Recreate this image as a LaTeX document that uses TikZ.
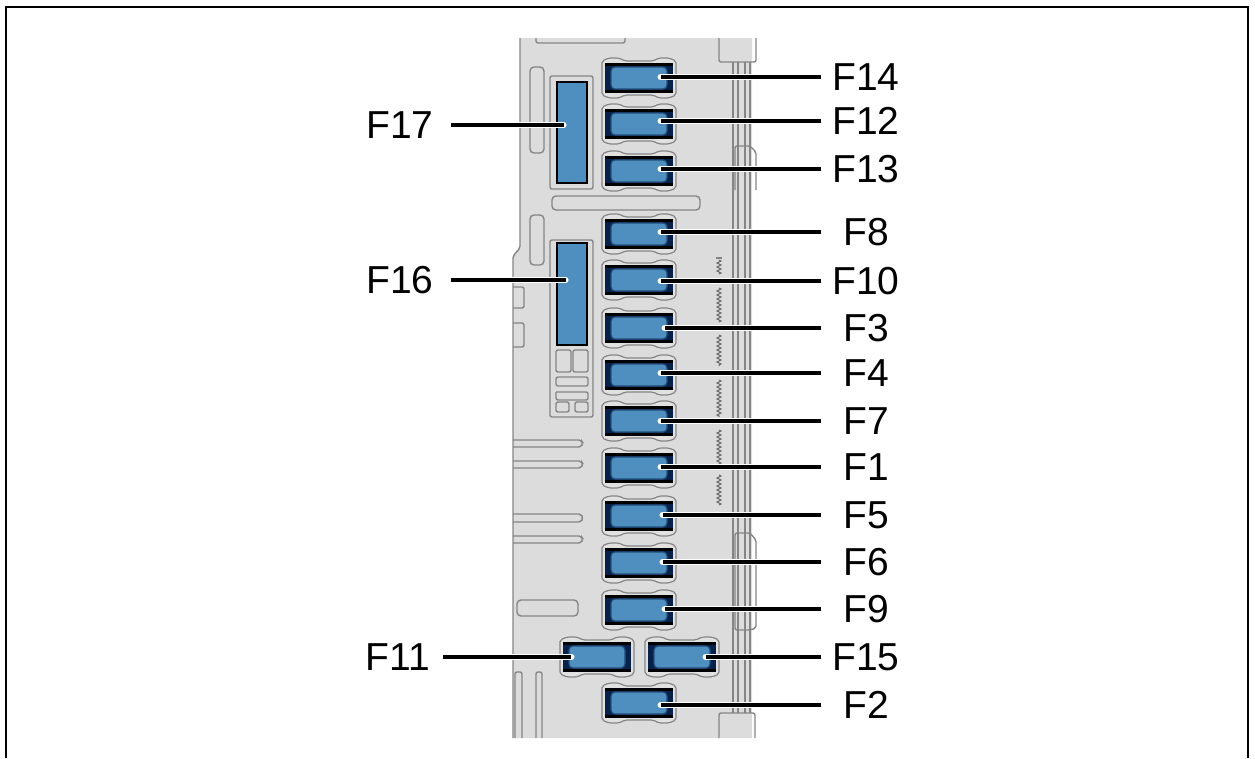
\documentclass[tikz,border=0pt]{standalone}
\usepackage{fontspec}
\setmainfont{Liberation Sans}
\usetikzlibrary{decorations.pathmorphing}
\definecolor{plategray}{HTML}{DCDCDC}
\definecolor{edgegray}{HTML}{858585}
\definecolor{fuseblue}{HTML}{4F8FBF}
\definecolor{fusedark}{HTML}{06224A}
\tikzset{
	part/.style = {draw=edgegray, line width=1.4pt, rounded corners=2pt},
	slot/.style = {draw=edgegray, line width=1.4pt, rounded corners=4pt, fill=plategray},
	saw/.style = {draw=black!60, line width=1pt, decorate, decoration={zigzag, segment length=4pt, amplitude=2pt}},
	fuse/.style = {draw=fusedark!60!fuseblue, line width=1.2pt, fill=fuseblue, rounded corners=4pt, minimum width=56pt, minimum height=22pt, inner sep=0pt},
	fusetall/.style = {draw=black, line width=2pt, fill=fuseblue, minimum width=30pt, inner sep=0pt},
	lab/.style = {font=\fontsize{39}{39}\selectfont, minimum width=90pt, inner sep=0pt, text=black},
	leader/.style = {draw=black, line width=3.2pt, preaction={draw=white, line width=6.2pt, line cap=round}}
}
% holder, dark frame and blue fuse; #1 name, #2 x, #3 y
\newcommand{\Fuse}[3]{
	\begin{scope}[shift={(#2,#3)}]
		\draw[part, line width=1.2pt, fill=plategray!85!white] (-37,-14) -- (-37,-17) -- (-30,-20) -- (-20,-20) -- (-14,-17) -- (14,-17) -- (20,-20) -- (30,-20) -- (37,-17) -- (37,17) -- (30,20) -- (20,20) -- (14,17) -- (-14,17) -- (-20,20) -- (-30,20) -- (-37,17) -- cycle;
		\fill[fusedark] (-34,-14) rectangle (34,14);
		\fill[black] (-34,-15) rectangle (34,-12);
		\fill[black] (-34,12) rectangle (34,15);
		\node[fuse] (#1) at (0,0) {};
	\end{scope}
}
\begin{document}
\begin{tikzpicture}[x=1pt, y=-1pt]
	\useasboundingbox (0,0) rectangle (1255,758);
	% frame
	\draw[black, line width=1.6pt] (6,758) -- (6,7) -- (1248,7) -- (1248,758);
	% plate
	\fill[plategray] (520,38) -- (752,38) -- (752,738) -- (513,738) -- (513,256) -- (520,248) -- cycle;
	\draw[part] (520,38) -- (520,248) -- (513,256) -- (513,738);
	\draw[part] (536,38) -- (536,43) -- (625,43) -- (625,38);
	\draw[part] (719,38) -- (719,62) -- (756,62) -- (756,38);
	\draw[part] (719,738) -- (719,713) -- (755,713) -- (755,738);
	\draw[edgegray, line width=1.2pt] (733,62) -- (733,713);
	\draw[edgegray, line width=1.2pt] (738,62) -- (738,713);
	\draw[edgegray, line width=1.2pt] (745,62) -- (745,713);
	\draw[edgegray, line width=1.2pt] (750,62) -- (750,713);
	\draw[part] (735,190) -- (735,146) -- (750,146) -- (756,152) -- (756,190);
	\draw[part] (735,630) -- (735,533) -- (750,533) -- (756,540) -- (756,628) -- (750,630) -- cycle;
	% slots
	\draw[slot] (530,67) rectangle (544,153);
	\draw[slot] (530,215) rectangle (544,265);
	\draw[slot] (552,196) rectangle (700,210);
	\draw[slot] (517,600) rectangle (578,616);
	\draw[part] (513,287) -- (524,287) -- (524,308) -- (513,308);
	\draw[part] (513,323) -- (524,323) -- (524,347) -- (513,347);
	\draw[part] (513,440) -- (581,440) -- (583,443) -- (581,447) -- (513,447);
	\draw[part] (513,461) -- (581,461) -- (583,464) -- (581,468) -- (513,468);
	\draw[part] (513,514) -- (581,514) -- (583,518) -- (581,522) -- (513,522);
	\draw[part] (513,536) -- (581,536) -- (583,539) -- (581,543) -- (513,543);
	\draw[part] (515,738) -- (515,672) -- (522,672) -- (522,738);
	\draw[part] (536,738) -- (536,672) -- (542,672) -- (542,738);
	% sawtooth
	\draw[part] (716,258) -- (722,258);
	\draw[saw] (719,260) -- (719,274);
	\draw[saw] (719,288) -- (719,322);
	\draw[saw] (719,335) -- (719,366);
	\draw[saw] (719,380) -- (719,417);
	\draw[saw] (719,430) -- (719,465);
	\draw[saw] (719,475) -- (719,505);
	% tall fuses
	\draw[part] (550,76) rectangle (593,189);
	\draw[part] (550,240) rectangle (593,417);
	\node[fusetall, minimum height=101pt] (F17) at (571.5,132.5) {};
	\node[fusetall, minimum height=102pt] (F16) at (571.5,294) {};
	\draw[part] (556,350) rectangle (571,372);
	\draw[part] (573,350) rectangle (588,372);
	\draw[part] (556,377) rectangle (588,386);
	\draw[part] (556,392) -- (588,392) -- (588,400) -- (556,400) -- (556,392);
	\draw[part] (556,412) -- (556,402) -- (569,402) -- (569,412) -- cycle;
	\draw[part] (575,412) -- (575,402) -- (588,402) -- (588,412) -- cycle;
	% fuses
	\Fuse{F14}{639}{78}
	\Fuse{F12}{639}{124}
	\Fuse{F13}{639}{171}
	\Fuse{F8}{639}{234}
	\Fuse{F10}{639}{280}
	\Fuse{F3}{639}{328}
	\Fuse{F4}{639}{375}
	\Fuse{F7}{639}{421}
	\Fuse{F1}{639}{468}
	\Fuse{F5}{639}{516}
	\Fuse{F6}{639}{563}
	\Fuse{F9}{639}{610}
	\Fuse{F11}{597}{657}
	\Fuse{F15}{682}{657}
	\Fuse{F2}{639}{703}
	% labels
	\node[lab] (L14) at (866,77) {F14};
	\node[lab] (L12) at (866,121) {F12};
	\node[lab] (L13) at (866,169) {F13};
	\node[lab] (L8) at (866,232) {F8};
	\node[lab] (L10) at (866,281) {F10};
	\node[lab] (L3) at (866,328) {F3};
	\node[lab] (L4) at (866,373) {F4};
	\node[lab] (L7) at (866,421) {F7};
	\node[lab] (L1) at (866,467) {F1};
	\node[lab] (L5) at (866,515) {F5};
	\node[lab] (L6) at (866,562) {F6};
	\node[lab] (L9) at (866,609) {F9};
	\node[lab] (L15) at (866,657) {F15};
	\node[lab] (L2) at (866,705) {F2};
	\node[lab, minimum width=102pt] (L17) at (400,125) {F17};
	\node[lab, minimum width=102pt] (L16) at (400,280) {F16};
	\node[lab] (L11) at (398,657) {F11};
	% leaders
	\draw[leader, shorten >=-7pt] (L14.west) -- (F14.east |- L14.west);
	\draw[leader, shorten >=-7pt] (L12.west) -- (F12.east |- L12.west);
	\draw[leader, shorten >=-7pt] (L13.west) -- (F13.east |- L13.west);
	\draw[leader, shorten >=-7pt] (L8.west) -- (F8.east |- L8.west);
	\draw[leader, shorten >=-7pt] (L10.west) -- (F10.east |- L10.west);
	\draw[leader, shorten >=-3pt] (L3.west) -- (F3.east |- L3.west);
	\draw[leader, shorten >=-7pt] (L4.west) -- (F4.east |- L4.west);
	\draw[leader, shorten >=-7pt] (L7.west) -- (F7.east |- L7.west);
	\draw[leader, shorten >=-7pt] (L1.west) -- (F1.east |- L1.west);
	\draw[leader, shorten >=-5pt] (L5.west) -- (F5.east |- L5.west);
	\draw[leader, shorten >=-5pt] (L6.west) -- (F6.east |- L6.west);
	\draw[leader, shorten >=-3pt] (L9.west) -- (F9.east |- L9.west);
	\draw[leader, shorten >=-5pt] (L15.west) -- (F15.east |- L15.west);
	\draw[leader, shorten >=-7pt] (L2.west) -- (F2.east |- L2.west);
	\draw[leader, shorten >=24pt] (L17.east) -- (F17.east |- L17.east);
	\draw[leader, shorten >=22pt] (L16.east) -- (F16.east |- L16.east);
	\draw[leader, shorten >=-3pt] (L11.east) -- (F11.west |- L11.east);
\end{tikzpicture}
\end{document}
